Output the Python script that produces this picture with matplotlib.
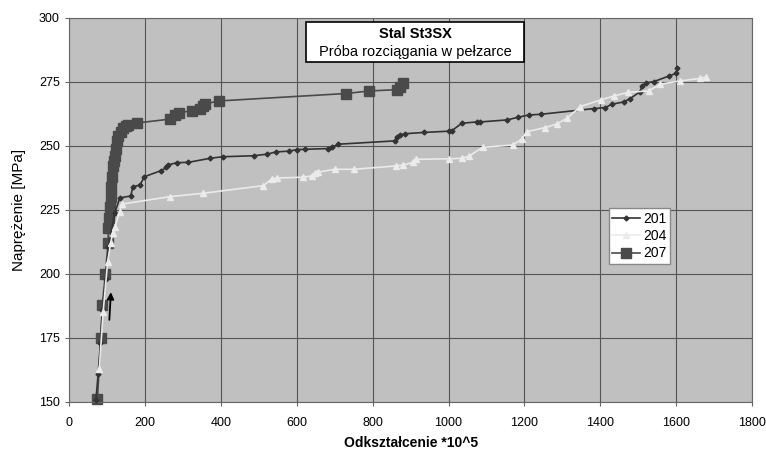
import numpy as np
import matplotlib.pyplot as plt
from matplotlib.patches import Rectangle

plt.rcParams['font.family'] = ['Liberation Sans', 'DejaVu Sans']

# strain *10^5 and stress [MPa] for the three samples
x201 = [71, 77, 83, 88, 97, 104, 121, 134, 163, 168, 187, 199, 243, 257, 262, 284, 314, 372,
        405, 488, 521, 546, 581, 600, 622, 682, 694, 710, 859, 864, 872, 886, 936, 1002,
        1009, 1035, 1075, 1084, 1155, 1182, 1211, 1244, 1382, 1413, 1430, 1461, 1477, 1505,
        1509, 1521, 1540, 1580, 1600, 1603]
y201 = [150.8, 161, 173, 186, 198, 210.7, 224, 229.7, 230.5, 234, 234.8, 238, 240.4, 241.6,
        242.6, 243.5, 243.6, 245.2, 245.8, 246.2, 246.8, 247.7, 248, 248.6, 248.7, 249, 249.6,
        250.7, 252, 253.4, 254.3, 254.8, 255.3, 255.8, 256, 258.9, 259.4, 259.4, 260.2, 261.2,
        262.1, 262.4, 264.6, 265, 266.3, 267.2, 268.4, 271.2, 273.4, 274.7, 275.1, 277.3,
        278.4, 280.4]

x204 = [80, 90, 102, 110, 115, 121, 134, 139, 266, 352, 512, 534, 548, 616, 640, 648, 657, 701,
        750, 861, 881, 907, 915, 1002, 1035, 1055, 1090, 1169, 1193, 1206, 1255, 1285, 1312,
        1347, 1401, 1435, 1474, 1527, 1558, 1609, 1663, 1679]
y204 = [162.9, 185, 204.8, 212, 216, 218.5, 224.3, 227.3, 230.2, 231.5, 234.5, 237.1, 237.5,
        237.8, 238.3, 239.3, 239.8, 240.9, 240.9, 242.2, 242.6, 243.6, 244.8, 245, 245.2,
        246.1, 249.5, 250.4, 252.7, 255.6, 257.2, 258.6, 260.8, 265.4, 268, 269.5, 271, 271.5,
        274.1, 275.4, 276.4, 277]

x207 = [75, 84, 88, 96, 103, 104, 106, 108, 110, 112, 114, 117, 119, 121, 124, 127, 130, 136,
        143, 150, 156, 180, 266, 280, 290, 325, 345, 352, 358, 395, 730, 791, 864, 872, 881]
y207 = [151, 175, 188, 200, 212, 218, 222, 226, 230, 234, 238, 242, 244, 246, 249, 252, 254,
        255.5, 257, 257.8, 258.2, 259, 260.5, 262, 263, 263.8, 264.3, 265.5, 266.4, 267.6,
        270.5, 271.5, 272, 273, 274.5]

x_ticks = np.arange(0, 1801, 200)
y_ticks = np.arange(150, 301, 25)

# loading direction arrow (tail, head)
arrow_tail = (106, 181)
arrow_head = (111, 194)

fig = plt.figure(figsize=(7.66, 4.5), dpi=100)
ax = fig.add_axes([0.090, 0.1067, 0.892, 0.8533])
ax.set_facecolor('#c0c0c0')

ax.plot(x201, y201, color='#333333', lw=1.2, marker='D', ms=2.5, label='201', zorder=3)
ax.plot(x204, y204, color='#ebebeb', lw=1.2, marker='^', ms=4, label='204', zorder=3)
ax.plot(x207, y207, color='#4a4a4a', lw=1.2, marker='s', ms=7, label='207', zorder=2,
        clip_on=False)

ax.annotate('', xy=arrow_head, xytext=arrow_tail,
            arrowprops=dict(arrowstyle='-|>', color='black', lw=1.3, mutation_scale=10))

ax.set_xlim(0, 1800)
ax.set_ylim(150, 300)
ax.set_xticks(x_ticks)
ax.set_yticks(y_ticks)
ax.grid(True, color='#555555', lw=0.8)
ax.set_axisbelow(True)
for s in ax.spines.values():
    s.set_color('#666666')
ax.tick_params(direction='out', length=3, colors='#666666', labelcolor='black', labelsize=9)
ax.tick_params(axis='x', pad=8)

ax.set_xlabel('Odkształcenie *10^5', fontsize=10, fontweight='bold', labelpad=5)
ax.set_ylabel('Naprężenie [MPa]', fontsize=11, labelpad=9)

# title box
ax.add_patch(Rectangle((0.347, 0.885), 0.319, 0.105, transform=ax.transAxes,
                       facecolor='white', edgecolor='black', lw=1.2, zorder=5))
ax.text(0.507, 0.958, 'Stal St3SX', transform=ax.transAxes, ha='center', va='center',
        fontsize=10.5, fontweight='bold', zorder=6)
ax.text(0.507, 0.912, 'Próba rozciągania w pełzarce', transform=ax.transAxes, ha='center',
        va='center', fontsize=10.5, zorder=6)

leg = ax.legend(loc='upper left', bbox_to_anchor=(0.79, 0.505), fontsize=10,
                frameon=True, fancybox=False, framealpha=1, edgecolor='#888888',
                handlelength=2.0, borderpad=0.25, labelspacing=0.25, handletextpad=0.2,
                borderaxespad=0)

plt.savefig('out.png', dpi=100)
